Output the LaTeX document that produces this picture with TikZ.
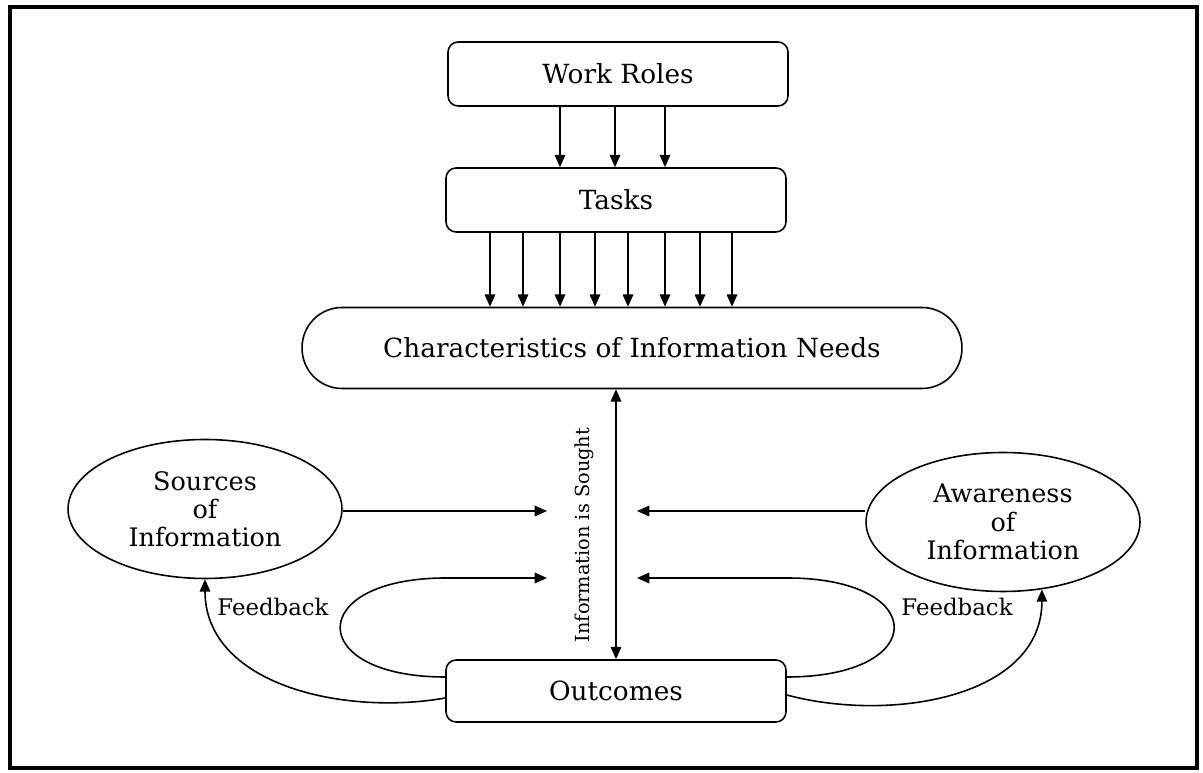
\documentclass[tikz,border=0pt]{standalone}
\usepackage{fontspec}
\setmainfont{DejaVu Serif}
\usetikzlibrary{arrows.meta,calc,shapes.geometric}

\begin{document}
\begin{tikzpicture}[x=0.02cm,y=0.02cm,line width=0.9pt,
  font=\fontsize{15}{17}\selectfont,
  >={Triangle[length=7pt,width=6pt]},
  box/.style={draw,rounded corners=0.2cm,minimum width=6.8cm,minimum height=1.28cm,inner sep=0pt},
  pill/.style={draw,rounded corners=0.8cm,minimum width=13.2cm,minimum height=1.62cm,inner sep=0pt},
  oval/.style={draw,ellipse,minimum width=5.48cm,minimum height=2.78cm,inner sep=0pt,align=center,
    font=\fontsize{14.5}{16}\selectfont}]
% frame round the whole figure
\useasboundingbox (0,0) rectangle (1203,773);
\draw[line width=2.8pt] (10,5) rectangle (1197,766);

% ---- the boxes and ovals
\node[box] (roles) at (618,699) {Work Roles};
\node[box] (tasks) at (616,573) {Tasks};
\node[pill] (needs) at (632,425) {Characteristics of Information Needs};
\node[box,minimum height=1.24cm] (outcomes) at (616,82) {Outcomes};
\node[oval] (sources) at (205,264) {Sources\\of\\Information};
\node[oval] (aware) at (1003,251) {Awareness\\of\\Information};

% ---- free ends of the arrows beside the "sought" line
\coordinate (inL1) at (547,262);
\coordinate (inR1) at (637,262);
\coordinate (inL2) at (547,195);
\coordinate (inR2) at (637,195);

% ---- work roles -> tasks
\foreach \dx in {-58,-3,47}{
  \path (roles.south) ++(\dx,0) coordinate (r);
  \draw[->] (r) -- (r |- tasks.north);
}

% ---- tasks -> needs
\foreach \dx in {-126,-93,-56,-21,12,49,84,116}{
  \path (tasks.south) ++(\dx,0) coordinate (t);
  \draw[->] (t) -- (t |- needs.north);
}

% ---- needs <-> outcomes
\draw[<->] (needs.south -| outcomes.north) -- (outcomes.north);
\node[rotate=90,font=\fontsize{11}{13}\selectfont] (sought) at (584,238) {Information is Sought};

% ---- sources and awareness
\draw[->] (sources.east |- inL1) -- (inL1);
\draw[->] (aware.west |- inR1) -- (inR1);

% ---- the two loops out of outcomes
\draw[->] ($(outcomes.west)+(0,14)$) .. controls (305,96) and (305,195) .. (446,195) -- (inL2);
\draw[->] ($(outcomes.east)+(0,14)$) .. controls (930,96) and (930,195) .. (787,195) -- (inR2);

% ---- feedback
\draw[->] ($(outcomes.west)+(0,-7)$) to[out=190,in=270] (sources.south);
\draw[->] ($(outcomes.east)+(0,-4)$) to[out=-15,in=270] (aware.-60);
\node[font=\fontsize{13}{15}\selectfont] (fbL) at (273,166) {Feedback};
\node[font=\fontsize{13}{15}\selectfont] (fbR) at (957,166) {Feedback};

\end{tikzpicture}
\end{document}
